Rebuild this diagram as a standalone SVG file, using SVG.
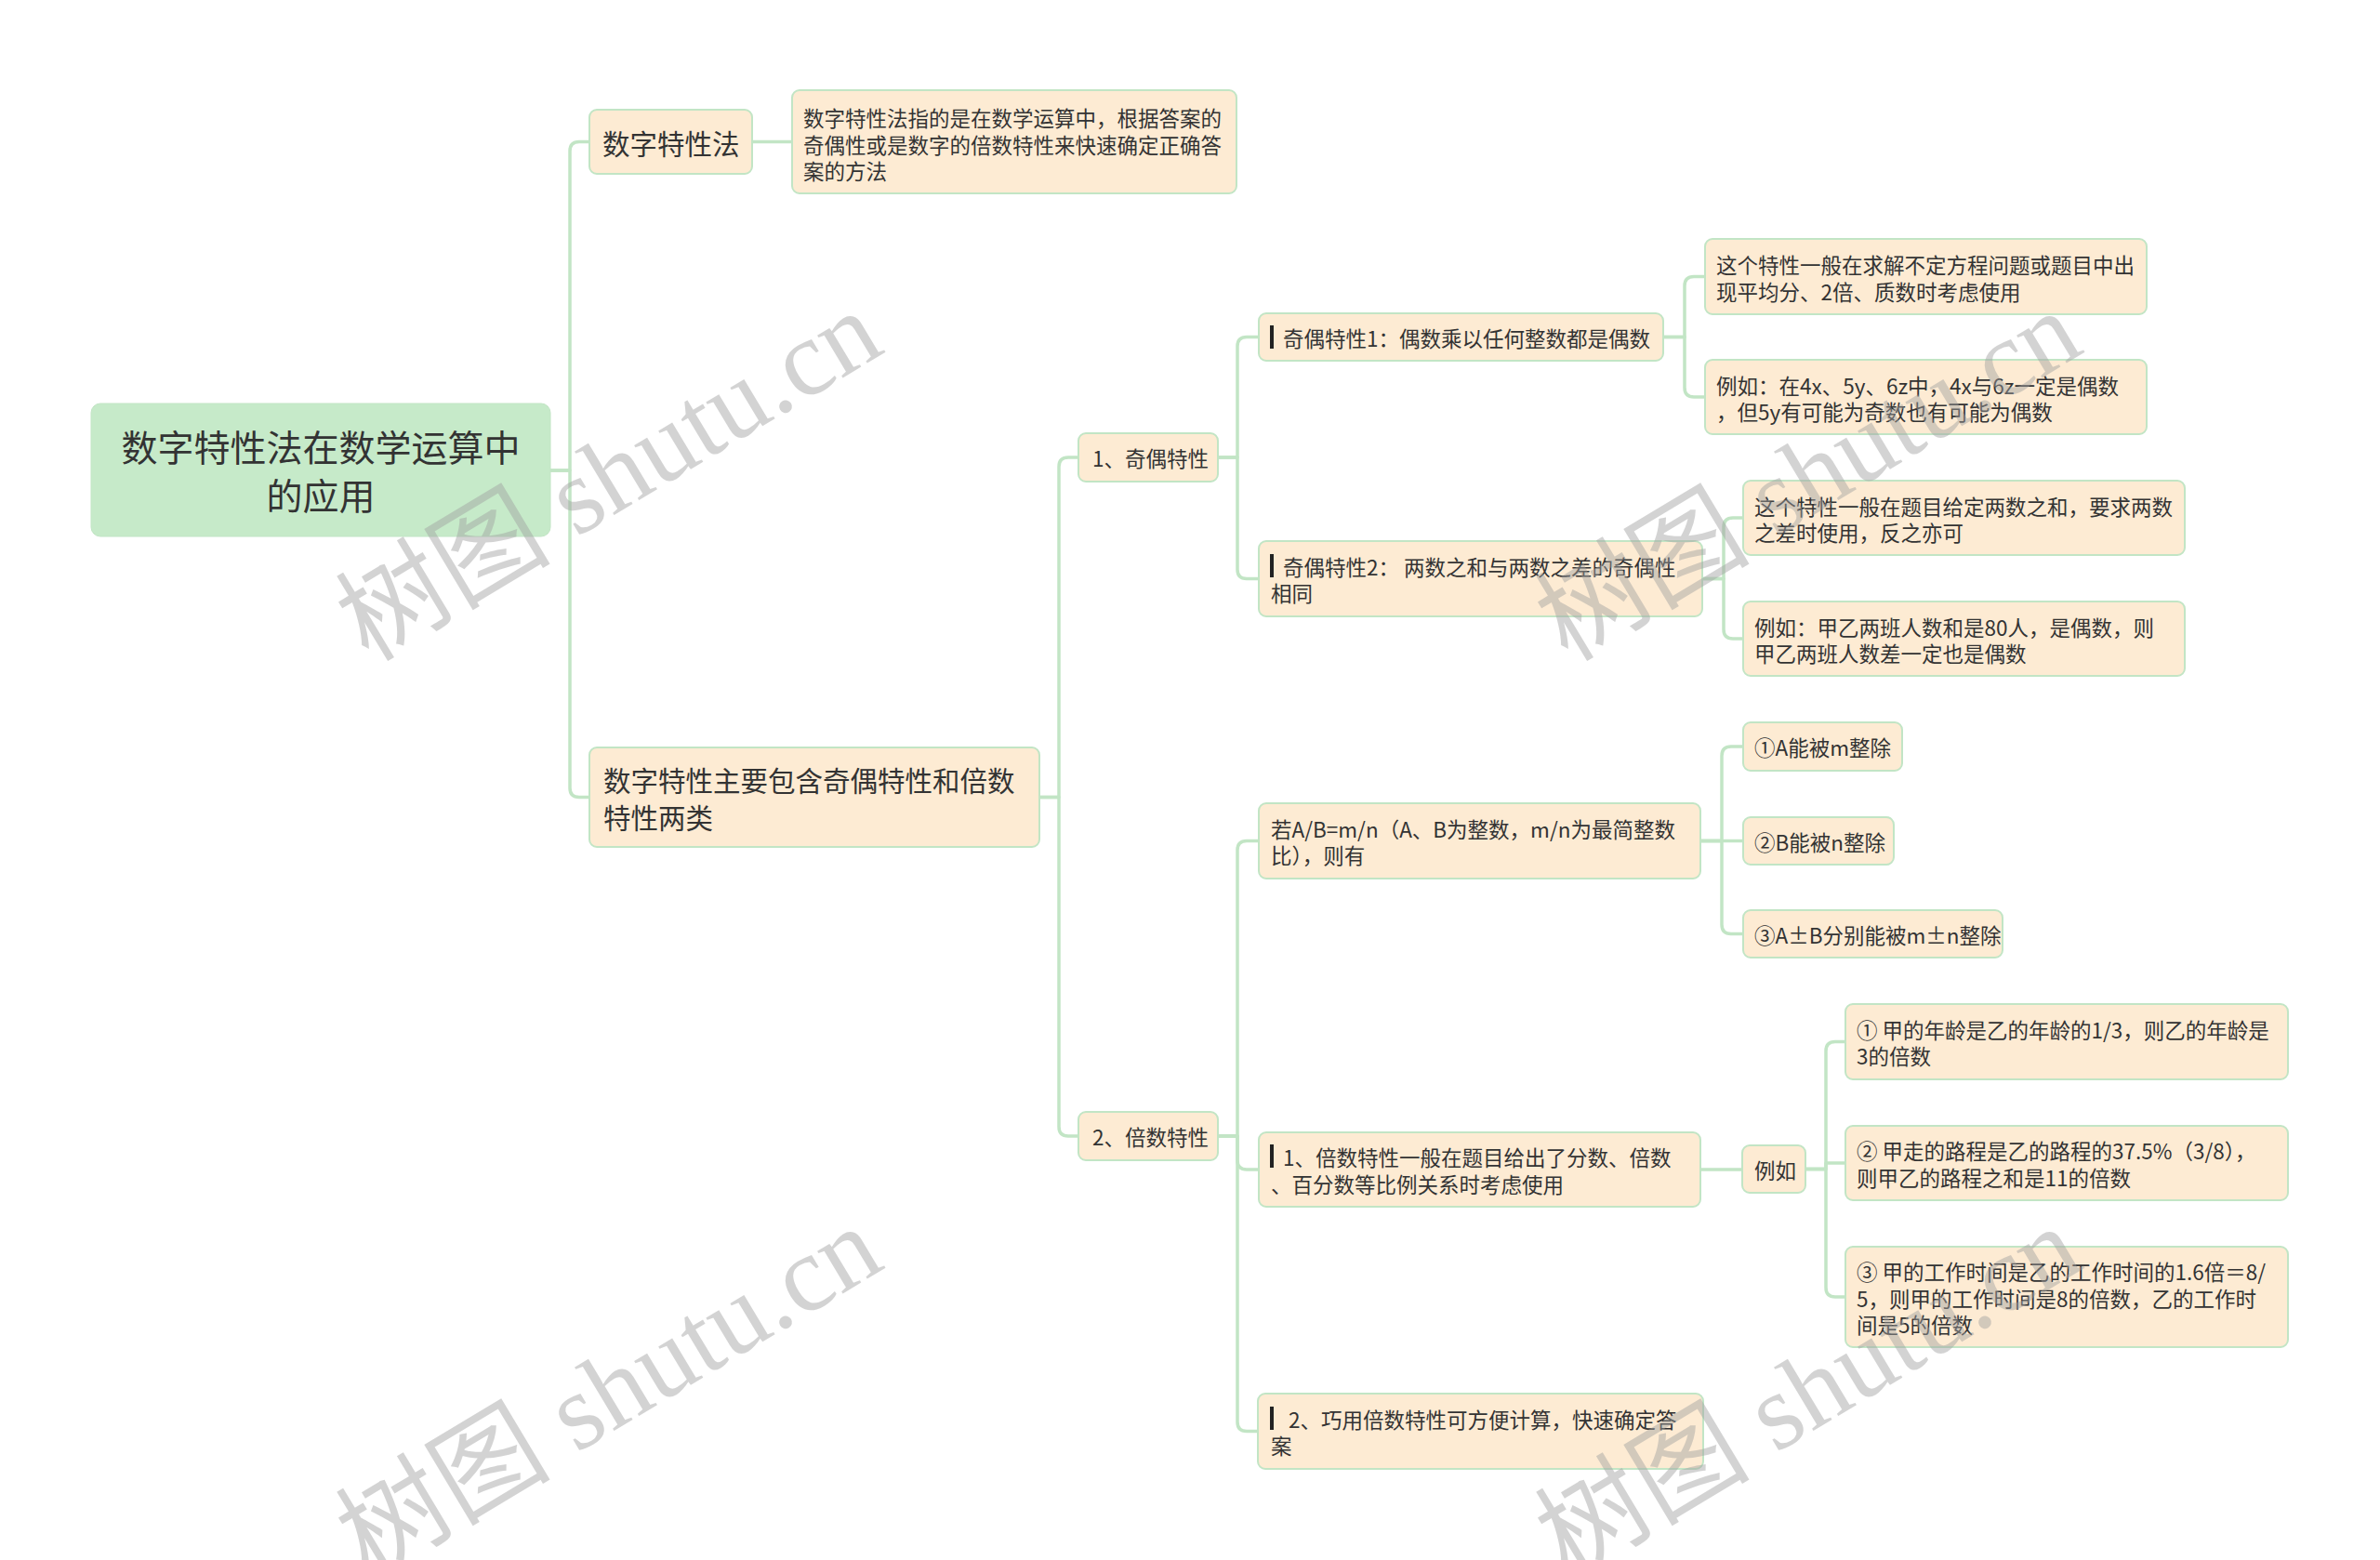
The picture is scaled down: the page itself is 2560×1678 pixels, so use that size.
<svg xmlns="http://www.w3.org/2000/svg" width="2560" height="1678" viewBox="0 0 2560 1678">
<style>
  .node{fill:#fdebd3;stroke:#c2e5c5;stroke-width:2}
  .root{fill:#c6eac9;stroke:#c2e5c5;stroke-width:1}
  .t{font-family:"Noto Sans CJK SC","Noto Sans",sans-serif;fill:#333;dominant-baseline:central}
  .s{font-size:22.5px}
  .m{font-size:29.5px}
  .l{font-size:39px}
  .bar{fill:#222}
  .c{fill:none;stroke:#c2e5c5;stroke-width:3.5;stroke-linejoin:round;stroke-linecap:round}
  .wm{font-family:"Liberation Serif","Noto Sans CJK SC",serif;font-size:116px;fill:#a0a0a0;opacity:0.45;text-anchor:middle;dominant-baseline:central}
</style>
<rect width="2560" height="1678" fill="#ffffff"/>
<g id="connectors">
  <path class="c" d="M592,506 H613 V162.5 Q613,152.5 623,152.5 H634"/>
  <path class="c" d="M592,506 H613 V847.5 Q613,857.5 623,857.5 H634"/>
  <path class="c" d="M809,152.5 H852"/>
  <path class="c" d="M1118,857.5 H1139 V502 Q1139,492 1149,492 H1160"/>
  <path class="c" d="M1118,857.5 H1139 V1212 Q1139,1222 1149,1222 H1160"/>
  <path class="c" d="M1310,492 H1331 V372.5 Q1331,362.5 1341,362.5 H1354"/>
  <path class="c" d="M1310,492 H1331 V612.5 Q1331,622.5 1341,622.5 H1354"/>
  <path class="c" d="M1789,362.5 H1812 V307.5 Q1812,297.5 1822,297.5 H1834"/>
  <path class="c" d="M1789,362.5 H1812 V417 Q1812,427 1822,427 H1834"/>
  <path class="c" d="M1831,622.5 H1854 V567 Q1854,557 1864,557 H1875"/>
  <path class="c" d="M1831,622.5 H1854 V677 Q1854,687 1864,687 H1875"/>
  <path class="c" d="M1310,1222 H1331 V914.5 Q1331,904.5 1341,904.5 H1354"/>
  <path class="c" d="M1310,1222 H1331 V1248 Q1331,1258 1341,1258 H1354"/>
  <path class="c" d="M1310,1222 H1331 V1529.5 Q1331,1539.5 1341,1539.5 H1354"/>
  <path class="c" d="M1829,904.5 H1852 V813 Q1852,803 1862,803 H1875"/>
  <path class="c" d="M1829,904.5 H1875"/>
  <path class="c" d="M1829,904.5 H1852 V994.5 Q1852,1004.5 1862,1004.5 H1875"/>
  <path class="c" d="M1829,1258 H1874"/>
  <path class="c" d="M1942,1257.5 H1964 V1130.5 Q1964,1120.5 1974,1120.5 H1985"/>
  <path class="c" d="M1942,1257.5 H1964 V1251 H1985"/>
  <path class="c" d="M1942,1257.5 H1964 V1385 Q1964,1395 1974,1395 H1985"/>
</g>
<g id="root">
  <rect class="root" x="98" y="434" width="494" height="143" rx="10"/>
  <text class="t l" x="345" y="479" text-anchor="middle">数字特性法在数学运算中</text>
  <text class="t l" x="345" y="531" text-anchor="middle">的应用</text>
</g>
<g id="n1">
  <rect class="node" x="634" y="118" width="175" height="69" rx="8"/>
  <text class="t m" x="648" y="152.5">数字特性法</text>
</g>
<g id="n1d">
  <rect class="node" x="852" y="97" width="478" height="111" rx="8"/>
  <text class="t s" x="864" y="126">数字特性法指的是在数学运算中，根据答案的</text>
  <text class="t s" x="864" y="154.5">奇偶性或是数字的倍数特性来快速确定正确答</text>
  <text class="t s" x="864" y="183">案的方法</text>
</g>
<g id="n2">
  <rect class="node" x="634" y="804" width="484" height="107" rx="8"/>
  <text class="t m" x="649" y="838">数字特性主要包含奇偶特性和倍数</text>
  <text class="t m" x="649" y="878">特性两类</text>
</g>
<g id="a1">
  <rect class="node" x="1160" y="466" width="150" height="52" rx="8"/>
  <text class="t s" x="1175" y="492">1、奇偶特性</text>
</g>
<g id="a2">
  <rect class="node" x="1160" y="1196" width="150" height="52" rx="8"/>
  <text class="t s" x="1175" y="1222">2、倍数特性</text>
</g>
<g id="b1">
  <rect class="node" x="1354" y="337" width="435" height="51" rx="8"/>
  <rect class="bar" x="1366" y="350" width="4" height="25"/>
  <text class="t s" x="1380" y="362.5">奇偶特性1：偶数乘以任何整数都是偶数</text>
</g>
<g id="b2">
  <rect class="node" x="1354" y="582" width="477" height="81" rx="8"/>
  <rect class="bar" x="1366" y="596" width="4" height="25"/>
  <text class="t s" x="1380" y="608.5">奇偶特性2： 两数之和与两数之差的奇偶性</text>
  <text class="t s" x="1367" y="637">相同</text>
</g>
<g id="c1">
  <rect class="node" x="1834" y="257" width="475" height="81" rx="8"/>
  <text class="t s" x="1846" y="284">这个特性一般在求解不定方程问题或题目中出</text>
  <text class="t s" x="1846" y="312.5">现平均分、2倍、质数时考虑使用</text>
</g>
<g id="c2">
  <rect class="node" x="1834" y="387" width="475" height="80" rx="8"/>
  <text class="t s" x="1846" y="413.5">例如：在4x、5y、6z中，4x与6z一定是偶数</text>
  <text class="t s" x="1846" y="442">，但5y有可能为奇数也有可能为偶数</text>
</g>
<g id="c3">
  <rect class="node" x="1875" y="517" width="475" height="80" rx="8"/>
  <text class="t s" x="1887" y="543.5">这个特性一般在题目给定两数之和，要求两数</text>
  <text class="t s" x="1887" y="572">之差时使用，反之亦可</text>
</g>
<g id="c4">
  <rect class="node" x="1875" y="647" width="475" height="80" rx="8"/>
  <text class="t s" x="1887" y="673.5">例如：甲乙两班人数和是80人，是偶数，则</text>
  <text class="t s" x="1887" y="702">甲乙两班人数差一定也是偶数</text>
</g>
<g id="b3">
  <rect class="node" x="1354" y="864" width="475" height="81" rx="8"/>
  <text class="t s" x="1367" y="890.5">若A/B=m/n（A、B为整数，m/n为最简整数</text>
  <text class="t s" x="1367" y="919">比），则有</text>
</g>
<g id="d1">
  <rect class="node" x="1875" y="777" width="171" height="52" rx="8"/>
  <text class="t s" x="1887" y="803">①A能被m整除</text>
</g>
<g id="d2">
  <rect class="node" x="1875" y="879" width="162" height="51" rx="8"/>
  <text class="t s" x="1887" y="904.5">②B能被n整除</text>
</g>
<g id="d3">
  <rect class="node" x="1875" y="979" width="279" height="51" rx="8"/>
  <text class="t s" x="1887" y="1004.5">③A±B分别能被m±n整除</text>
</g>
<g id="b4">
  <rect class="node" x="1354" y="1218" width="475" height="80" rx="8"/>
  <rect class="bar" x="1366" y="1231" width="4" height="25"/>
  <text class="t s" x="1380" y="1244">1、倍数特性一般在题目给出了分数、倍数</text>
  <text class="t s" x="1367" y="1272.5">、百分数等比例关系时考虑使用</text>
</g>
<g id="e">
  <rect class="node" x="1874" y="1232" width="68" height="51" rx="8"/>
  <text class="t s" x="1887" y="1257.5">例如</text>
</g>
<g id="f1">
  <rect class="node" x="1985" y="1080" width="476" height="81" rx="8"/>
  <text class="t s" x="1997" y="1106.5">① 甲的年龄是乙的年龄的1/3，则乙的年龄是</text>
  <text class="t s" x="1997" y="1135">3的倍数</text>
</g>
<g id="f2">
  <rect class="node" x="1985" y="1211" width="476" height="80" rx="8"/>
  <text class="t s" x="1997" y="1237">② 甲走的路程是乙的路程的37.5%（3/8），</text>
  <text class="t s" x="1997" y="1265.5">则甲乙的路程之和是11的倍数</text>
</g>
<g id="f3">
  <rect class="node" x="1985" y="1341" width="476" height="108" rx="8"/>
  <text class="t s" x="1997" y="1367">③ 甲的工作时间是乙的工作时间的1.6倍＝8/</text>
  <text class="t s" x="1997" y="1395.5">5，则甲的工作时间是8的倍数，乙的工作时</text>
  <text class="t s" x="1997" y="1424">间是5的倍数</text>
</g>
<g id="b5">
  <rect class="node" x="1353" y="1499" width="479" height="81" rx="8"/>
  <rect class="bar" x="1366" y="1513" width="4" height="25"/>
  <text class="t s" x="1386" y="1525.5">2、巧用倍数特性可方便计算，快速确定答</text>
  <text class="t s" x="1367" y="1554">案</text>
</g>
<g id="watermarks">
  <text class="wm" transform="rotate(-31 655 512)" x="655" y="512">树图 shutu.cn</text>
  <text class="wm" transform="rotate(-31 1945 512)" x="1945" y="512">树图 shutu.cn</text>
  <text class="wm" transform="rotate(-31 655 1497)" x="655" y="1497">树图 shutu.cn</text>
  <text class="wm" transform="rotate(-31 1945 1497)" x="1945" y="1497">树图 shutu.cn</text>
</g>
</svg>
